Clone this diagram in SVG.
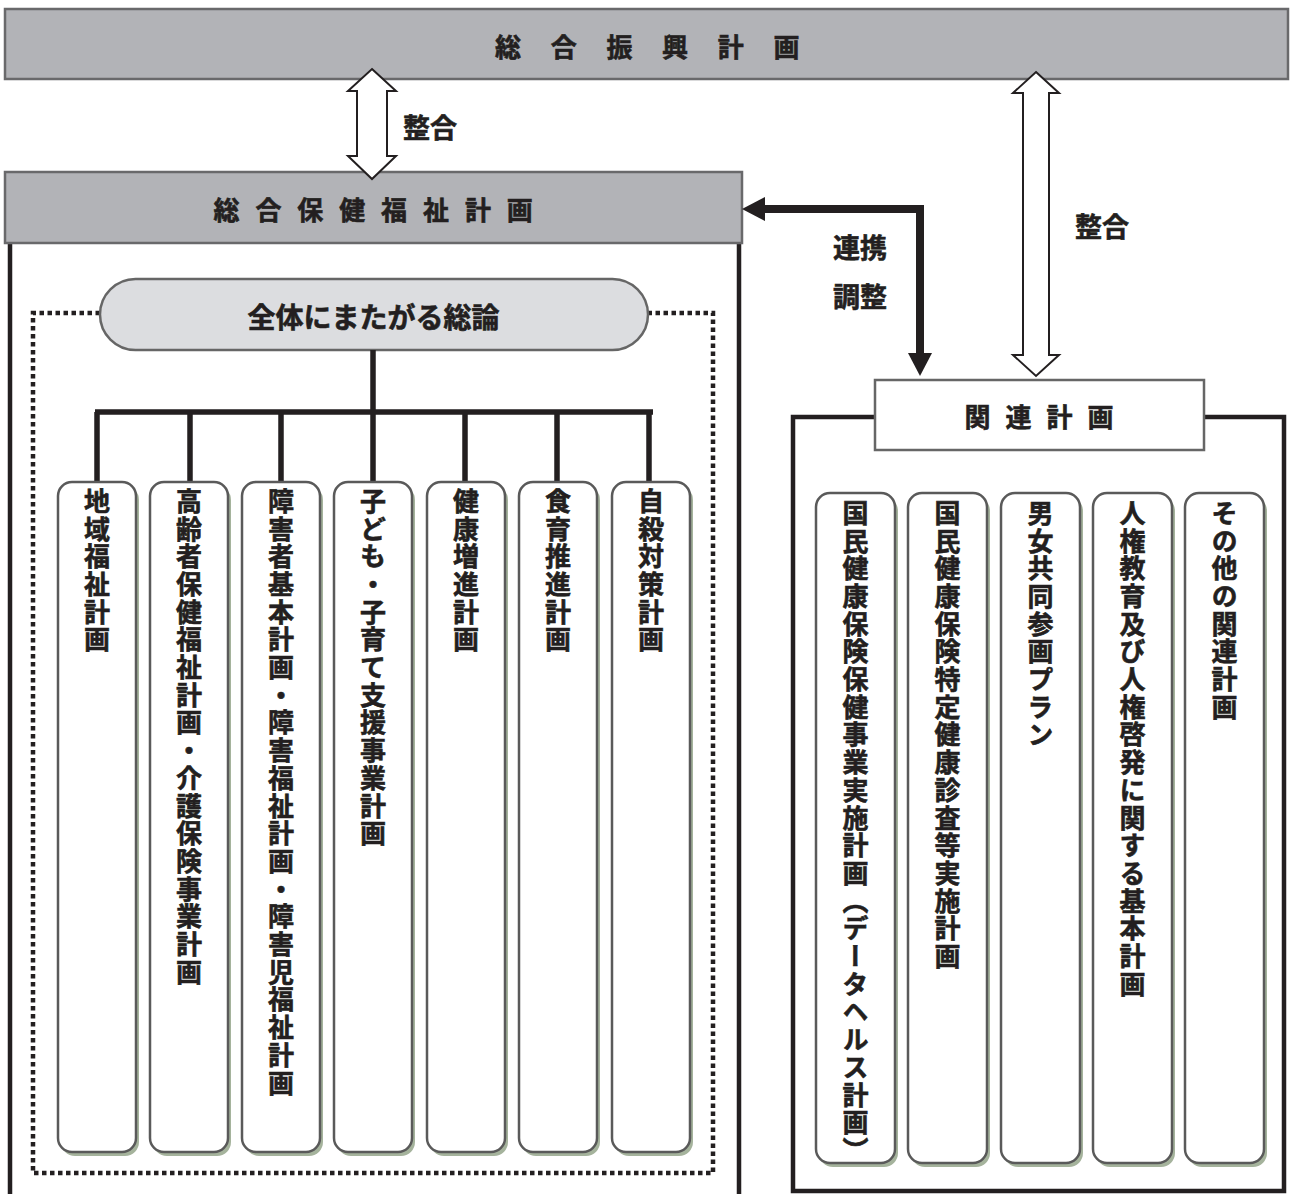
<svg xmlns="http://www.w3.org/2000/svg" width="1290" height="1194" viewBox="0 0 1290 1194">
<style>
text{font-family:"Noto Sans CJK JP","Noto Sans CJK SC",sans-serif;font-weight:700;fill:#231f20;stroke:#231f20;stroke-width:0.6}
.hdr{font-size:26px;text-anchor:middle;dominant-baseline:central}
.lbl{font-size:27px;dominant-baseline:central}
.vt{font-size:26px;writing-mode:vertical-rl;letter-spacing:1.7px}
.gray{fill:#b2b3b7;stroke:#69696b;stroke-width:2.5}
.col{fill:#fff;stroke:#5a5a5a;stroke-width:2.5}
.shd{fill:#a5b39c}
.blk{fill:none;stroke:#231f20;stroke-width:4.5}
.tree{fill:none;stroke:#231f20;stroke-width:5.5}
.hollow{fill:#fff;stroke:#231f20;stroke-width:2}
</style>
<defs>
<g id="colL"><rect class="shd" x="3" y="4" width="78" height="670" rx="14"/><rect class="col" x="0" y="0" width="78" height="670" rx="14"/></g>
<g id="colR"><rect class="shd" x="3" y="4" width="79" height="670" rx="14"/><rect class="col" x="0" y="0" width="79" height="670" rx="14"/></g>
</defs>

<g id="sogo-shinko">
<rect class="gray" x="5" y="9" width="1283" height="70"/>
<text class="hdr" y="45"><tspan x="508">総</tspan><tspan x="563.7">合</tspan><tspan x="619.4">振</tspan><tspan x="675.1">興</tspan><tspan x="730.8">計</tspan><tspan x="786.5">画</tspan></text>
</g>

<g id="sogo-hoken">
<path class="blk" d="M10,243 V1194 M739,243 V1194"/>
<rect class="gray" x="5" y="172" width="737" height="71"/>
<text class="hdr" y="208"><tspan x="226.5">総</tspan><tspan x="268.4">合</tspan><tspan x="310.3">保</tspan><tspan x="352.2">健</tspan><tspan x="394.1">福</tspan><tspan x="436">祉</tspan><tspan x="477.9">計</tspan><tspan x="519.8">画</tspan></text>
</g>

<g id="soron">
<path d="M100,313 H33 V1173 H713 V313 H648" fill="none" stroke="#231f20" stroke-width="4.5" stroke-dasharray="4.5 3.5"/>
<rect x="100" y="279" width="548" height="71" rx="35.5" fill="#dcdde0" stroke="#666" stroke-width="2.5"/>
<text class="lbl" x="373.5" y="316" text-anchor="middle" style="font-size:28px">全体にまたがる総論</text>
</g>

<g id="connectors">
<path class="tree" d="M373,350 V412 M95,412 H653 M97,412 V482 M190,412 V482 M281,412 V482 M373,412 V482 M465,412 V482 M557,412 V482 M649,412 V482"/>
<polygon class="hollow" points="372,69 396,91 387,91 387,156 396,156 372,179 348,156 357,156 357,91 348,91"/>
<polygon class="hollow" points="1036,72 1059,93 1049,93 1049,355 1059,355 1036,376 1013,355 1023,355 1023,93 1013,93"/>
<path d="M920,354 V209 H763" fill="none" stroke="#231f20" stroke-width="8"/>
<polygon points="742,209 765,197 765,221" fill="#231f20"/>
<polygon points="920,376 908,353 932,353" fill="#231f20"/>
<text class="lbl" x="403" y="126">整合</text>
<text class="lbl" x="833" y="246">連携</text>
<text class="lbl" x="833" y="295">調整</text>
<text class="lbl" x="1075" y="225">整合</text>
</g>

<g id="kanren">
<path class="blk" d="M875,417 H793 V1191 H1284 V417 H1204"/>
<rect x="875" y="380" width="329" height="70" fill="#fff" stroke="#666" stroke-width="2.5"/>
<text class="hdr" y="415"><tspan x="977.5">関</tspan><tspan x="1018.5">連</tspan><tspan x="1059.5">計</tspan><tspan x="1100.5">画</tspan></text>
</g>

<g id="chiiki"><use href="#colL" x="58" y="482"/><text class="vt" x="97" y="488">地域福祉計画</text></g>
<g id="koreisha"><use href="#colL" x="150" y="482"/><text class="vt" x="189" y="488">高齢者保健福祉計画・介護保険事業計画</text></g>
<g id="shogai"><use href="#colL" x="242" y="482"/><text class="vt" x="281" y="488">障害者基本計画・障害福祉計画・障害児福祉計画</text></g>
<g id="kodomo"><use href="#colL" x="334" y="482"/><text class="vt" x="373" y="488">子ども・子育て支援事業計画</text></g>
<g id="kenko"><use href="#colL" x="427" y="482"/><text class="vt" x="466" y="488">健康増進計画</text></g>
<g id="shokuiku"><use href="#colL" x="519" y="482"/><text class="vt" x="558" y="488">食育推進計画</text></g>
<g id="jisatsu"><use href="#colL" x="612" y="482"/><text class="vt" x="651" y="488">自殺対策計画</text></g>

<g id="datahealth"><use href="#colR" x="816" y="493"/><text class="vt" x="855.5" y="500">国民健康保険保健事業実施計画（データヘルス計画）</text></g>
<g id="tokutei"><use href="#colR" x="908" y="493"/><text class="vt" x="947.5" y="500">国民健康保険特定健康診査等実施計画</text></g>
<g id="danjo"><use href="#colR" x="1001" y="493"/><text class="vt" x="1040.5" y="500">男女共同参画プラン</text></g>
<g id="jinken"><use href="#colR" x="1093" y="493"/><text class="vt" x="1132.5" y="500">人権教育及び人権啓発に関する基本計画</text></g>
<g id="sonota"><use href="#colR" x="1185" y="493"/><text class="vt" x="1224.5" y="500">その他の関連計画</text></g>
</svg>
